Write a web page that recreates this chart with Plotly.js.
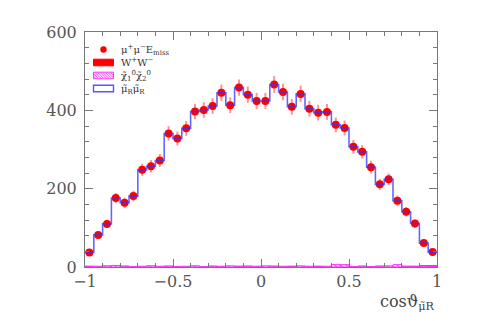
<!DOCTYPE html>
<html>
<head>
<meta charset="utf-8">
<script src="https://cdn.plot.ly/plotly-3.0.1.min.js"></script>
<style>html,body{margin:0;padding:0;background:#fff;}#chart{width:480px;height:321px;}</style>
</head>
<body>
<div id="chart"></div>
<script>
// cos(theta) bin centres (bin width 0.05)
const binCenters = [-0.975,-0.925,-0.875,-0.825,-0.775,-0.725,-0.675,-0.625,-0.575,-0.525,
  -0.475,-0.425,-0.375,-0.325,-0.275,-0.225,-0.175,-0.125,-0.075,-0.025,
  0.025,0.075,0.125,0.175,0.225,0.275,0.325,0.375,0.425,0.475,
  0.525,0.575,0.625,0.675,0.725,0.775,0.825,0.875,0.925,0.975];
const binEdges = [-1,-0.95,-0.9,-0.85,-0.8,-0.75,-0.7,-0.65,-0.6,-0.55,-0.5,
  -0.45,-0.4,-0.35,-0.3,-0.25,-0.2,-0.15,-0.1,-0.05,0,
  0.05,0.1,0.15,0.2,0.25,0.3,0.35,0.4,0.45,0.5,
  0.55,0.6,0.65,0.7,0.75,0.8,0.85,0.9,0.95,1];
// mu+ mu- E_miss events (data points)
const dataCounts = [37,82,110,176,164,181,248,257,272,341,328,354,397,401,411,445,413,458,440,424,
  424,466,447,409,442,404,394,396,363,355,307,294,255,211,224,169,141,111,61,38];
const dataErrors = [6,9,10.5,13,13,13.5,16,16,16.5,18.5,18,19,20,20,20,21,20,21,21,20.5,
  20.5,21.5,21,20,21,20,20,20,19,19,17.5,17,16,14.5,15,13,12,10.5,8,6];
// smuon_R smuon_R expectation (histogram)
const smuonCounts = [37,82,110,176,164,181,248,257,272,341,328,354,397,401,411,445,413,458,440,424,
  424,466,447,409,442,404,394,396,363,355,307,294,255,211,224,169,141,111,61,38];
// backgrounds
const wwCounts = [2,1,2,1,2,1,1,2,1,2,1,1,2,1,2,1,1,2,2,1,1,2,1,2,1,1,2,1,2,1,1,2,1,2,1,1,2,2,3,3];
const chiCounts = [1,2,3,4,2,1,2,3,2,2,1,2,3,1,2,2,3,1,2,2,3,2,2,1,3,2,1,2,6,6,1,2,1,2,3,6,1,1,2,1];
// legend labels
const legendLabels = ['μ<sup>+</sup>μ<sup>−</sup>E<sub>miss</sub>', 'W<sup>+</sup>W<sup>−</sup>',
  'χ̃<sub>1</sub><sup>0</sup>χ̃<sub>2</sub><sup>0</sup>', 'μ̃<sub>R</sub>μ̃<sub>R</sub>'];

const stepY = smuonCounts.concat([smuonCounts[smuonCounts.length-1]]);
const serif = 'DejaVu Serif, Liberation Serif, serif';

// plot area in pixels (for placing the hand-drawn legend)
const PL = 85, PR = 437, PT = 32, PB = 267;
const px = v => (v - PL) / (PR - PL);
const py = v => (PB - v) / (PB - PT);

const traces = [
  {type:'bar', x:binCenters, y:wwCounts, width:0.05, name:legendLabels[1],
   marker:{color:'#ff0000', line:{color:'#ff0000', width:1}}},
  {type:'bar', x:binCenters, y:chiCounts, width:0.05, name:legendLabels[2],
   marker:{color:'rgba(255,255,255,0)', line:{color:'#ff33ff', width:1},
     pattern:{shape:'\\', fgcolor:'#ff33ff', bgcolor:'#ffffff', size:4, solidity:0.3}}},
  {type:'scatter', mode:'markers', x:binCenters, y:dataCounts, name:legendLabels[0],
   marker:{color:'#ff0000', size:8},
   error_y:{type:'data', array:dataErrors, visible:true, color:'rgba(255,60,60,0.55)', thickness:2, width:0}},
  {type:'scatter', mode:'lines', x:binEdges, y:stepY, name:legendLabels[3], hoverinfo:'skip',
   line:{shape:'hv', color:'rgba(50,50,255,0.75)', width:1.6}}
];

// hand-drawn legend: symbols as shapes, labels as one multi-line text
const legendFont = 10, lineH = legendFont * 1.3;
const row0 = 49.5;
const rows = [0,1,2,3].map(i => row0 + i * lineH);
const sx0 = 93.5, sx1 = 113.5, sh = 3.3;
const shapes = [];
shapes.push({type:'circle', xref:'paper', yref:'paper', xsizemode:'pixel', ysizemode:'pixel',
  xanchor:px(103.5), yanchor:py(rows[0]), x0:-3.2, x1:3.2, y0:-3.2, y1:3.2,
  fillcolor:'#ff0000', line:{width:0}});
shapes.push({type:'rect', xref:'paper', yref:'paper', x0:px(sx0), x1:px(sx1), y0:py(rows[1]-sh), y1:py(rows[1]+sh),
  fillcolor:'#ff0000', line:{color:'#ff0000', width:1}});
shapes.push({type:'rect', xref:'paper', yref:'paper', x0:px(sx0), x1:px(sx1), y0:py(rows[2]-sh), y1:py(rows[2]+sh),
  fillcolor:'#ffe0ff', line:{color:'#ff33ff', width:1}});
(function(){
  const Y0 = rows[2]-sh, Y1 = rows[2]+sh, h = Y1 - Y0;
  let d = '';
  for (let a = sx0 - h; a < sx1; a += 2.6) {
    const xa = Math.max(a, sx0), xb = Math.min(a + h, sx1);
    if (xb <= xa) continue;
    d += 'M' + px(xa) + ',' + py(Y0 + (xa - a)) + 'L' + px(xb) + ',' + py(Y0 + (xb - a));
  }
  shapes.push({type:'path', xref:'paper', yref:'paper', path:d, line:{color:'#ff55ff', width:1}});
})();
shapes.push({type:'rect', xref:'paper', yref:'paper', x0:px(sx0), x1:px(sx1), y0:py(rows[3]-sh), y1:py(rows[3]+sh),
  fillcolor:'#ffffff', line:{color:'#5555ff', width:1.4}});

const annotations = [{
  xref:'paper', yref:'paper', x:px(119), y:py((rows[0] + rows[3]) / 2), xanchor:'left', yanchor:'middle',
  align:'left', showarrow:false, text:legendLabels.join('<br>'), font:{family:serif, size:legendFont, color:'#333'}
}];
annotations.push({xref:'paper', yref:'paper', x:1, y:py(302), xanchor:'right', yanchor:'middle', showarrow:false,
  text:'cosϑ<sub>μ̃R</sub>', font:{family:serif, size:16, color:'#444'}});

const axisCommon = {
  showgrid:false, zeroline:false, showline:true, linecolor:'#777', linewidth:1,
  mirror:'ticks', ticks:'inside', ticklen:8, tickcolor:'#777', tickwidth:1,
  tickfont:{family:serif, size:16, color:'#555'}
};

const layout = {
  width:480, height:321,
  margin:{l:PL, r:480-PR, t:PT, b:321-PB},
  paper_bgcolor:'#fff', plot_bgcolor:'#fff',
  barmode:'overlay', bargap:0,
  showlegend:false,
  xaxis:Object.assign({}, axisCommon, {range:[-1,1], tickvals:[-1,-0.5,0,0.5,1],
    ticktext:['−1','−0.5','0','0.5','1'], minor:{dtick:0.1, ticks:'inside', ticklen:4, tickcolor:'#777'}}),
  yaxis:Object.assign({}, axisCommon, {range:[0,600], dtick:200, ticklabelstandoff:4,
    minor:{dtick:40, ticks:'inside', ticklen:4, tickcolor:'#777'}}),
  shapes:shapes,
  annotations:annotations
};

Plotly.newPlot('chart', traces, layout, {displayModeBar:false, staticPlot:true});
</script>
</body>
</html>
